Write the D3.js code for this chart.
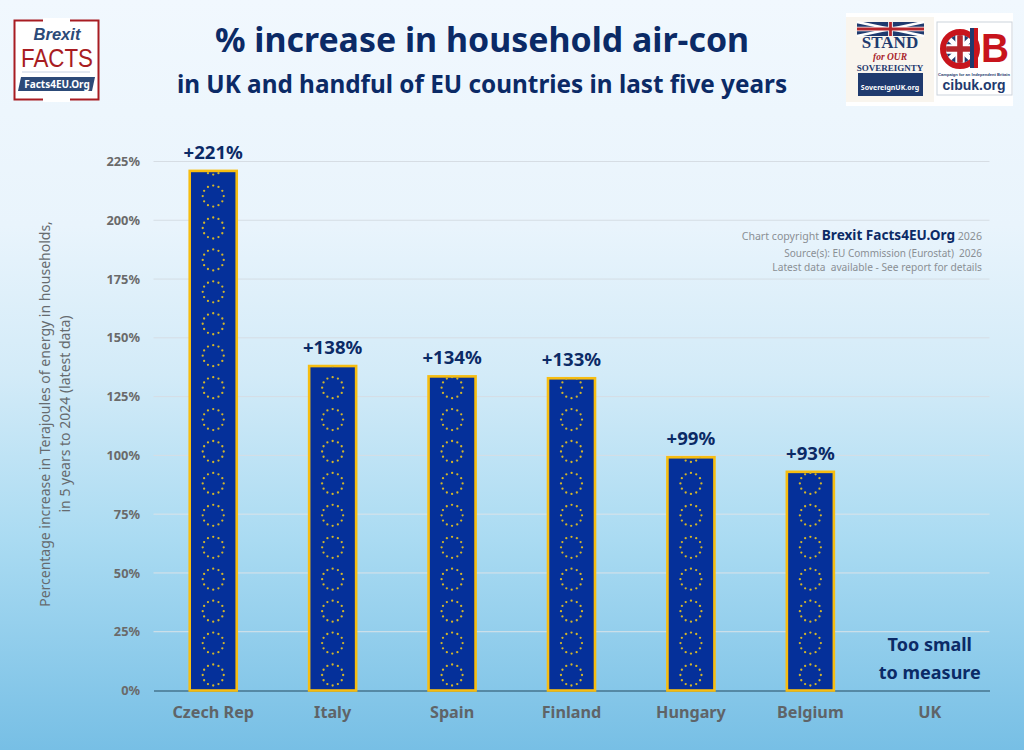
<!DOCTYPE html>
<html><head><meta charset="utf-8">
<script src="https://cdn.jsdelivr.net/npm/d3@7"></script>
<style>html,body{margin:0;padding:0;overflow:hidden}svg{display:block}text{font-family:"Noto Sans",Lato,sans-serif;white-space:pre}</style>
</head><body><svg id="c" width="1024" height="750"></svg>
<script>
const categories=["Czech Rep","Italy","Spain","Finland","Hungary","Belgium","UK"];
const values=[221,138,133.6,132.8,99.2,93,0];
const valueLabels=["+221%","+138%","+134%","+133%","+99%","+93%",""];
const ticks=[0,25,50,75,100,125,150,175,200,225];
const ringSteps=d3.range(17);
const ringStars=d3.range(12);

const svg=d3.select("#c");
const defs=svg.append("defs");
const bg=defs.append("linearGradient").attr("id","bg").attr("x1",0).attr("x2",0).attr("y1",0).attr("y2",1);
[[0,"#f1f8fe"],[.3,"#e9f4fc"],[.5,"#d3ebf8"],[.72,"#aadbf2"],[1,"#77bfe5"]].forEach(s=>bg.append("stop").attr("offset",s[0]).attr("stop-color",s[1]));
svg.append("rect").attr("width",1024).attr("height",750).attr("fill","url(#bg)");

const x=d3.scaleBand().domain(categories).range([153.5,989.5]).paddingInner(0).paddingOuter(0);
const y=d3.scaleLinear().domain([0,225]).range([690.5,161.5]);
const barW=47;

const gy=svg.append("g").attr("transform","translate(153.5,0)")
 .call(d3.axisLeft(y).tickValues(ticks).tickSize(0).tickPadding(13.5).tickFormat(d=>d+"%"));
gy.select(".domain").remove();
gy.selectAll("text").attr("fill","#6a6a6a").attr("font-size",12.8).attr("font-weight",700).style("font-family","Noto Sans");
svg.append("g").selectAll("line").data(ticks.filter(d=>d>0)).join("line")
 .attr("x1",153.5).attr("x2",989.5).attr("y1",d=>y(d)).attr("y2",d=>y(d))
 .attr("stroke",d=>d>=100?"#d6dde4":"#dbe3e8").attr("stroke-width",1);
const gx=svg.append("g").attr("transform","translate(0,690.5)")
 .call(d3.axisBottom(x).tickSize(0).tickPadding(16));
gx.select(".domain").attr("stroke","#46748e").attr("stroke-width",1.6);
gx.selectAll("text").attr("fill","#5f6468").attr("font-size",16.2).attr("font-weight",700).style("font-family","Noto Sans");

const bars=svg.append("g").selectAll("g").data(categories.map((c,i)=>({c,v:values[i],l:valueLabels[i],i}))).join("g");
bars.filter(d=>d.v>0).each(function(d){
  const g=d3.select(this), cx=x(d.c)+x.bandwidth()/2, top=y(d.v);
  defs.append("clipPath").attr("id","cl"+d.i).append("rect").attr("x",cx-barW/2).attr("y",top).attr("width",barW).attr("height",y(0)-top);
  g.append("rect").attr("x",cx-barW/2).attr("y",top).attr("width",barW).attr("height",y(0)-top)
   .attr("fill","#05309a").attr("stroke","#f7bd11").attr("stroke-width",2.6);
  const st=g.append("g").attr("clip-path",`url(#cl${d.i})`);
  ringSteps.forEach(k=>{
    const rc=y(0)-15.5-k*31.93;
    ringStars.forEach(a=>{
      const t=a/12*2*Math.PI;
      st.append("circle").attr("cx",cx+10.5*Math.sin(t)).attr("cy",rc-10.5*Math.cos(t)).attr("r",1.15).attr("fill","#d2b52c");
    });
  });
  g.append("text").attr("x",cx).attr("y",top-12).attr("text-anchor","middle")
   .attr("font-size",18.6).attr("font-weight",700).attr("fill","#0b2a66").text(d.l);
});

const uk=x("UK")+x.bandwidth()/2;
["Too small","to measure"].forEach((t,i)=>svg.append("text").attr("x",uk).attr("y",651+i*28).attr("text-anchor","middle")
  .attr("font-size",18).attr("font-weight",700).attr("fill","#0b2a66").text(t));

const yt=svg.append("g").attr("transform","translate(50,414) rotate(-90)");
["Percentage increase in Terajoules of energy in households,","in 5 years to 2024 (latest data)"].forEach((t,i)=>
  yt.append("text").attr("y",i*20).attr("text-anchor","middle").attr("font-size",14).attr("fill","#666b6f").text(t));

svg.append("text").attr("x",482).attr("y",52).attr("text-anchor","middle").attr("font-size",33.9).attr("font-weight",700).attr("fill","#0b2a66").text("% increase in household air-con");
svg.append("text").attr("x",482).attr("y",93).attr("text-anchor","middle").attr("font-size",24.3).attr("font-weight",700).attr("fill","#0b2a66").text("in UK and handful of EU countries in last five years");

const cp=svg.append("text").attr("x",982).attr("y",240).attr("text-anchor","end").attr("font-size",10.6).attr("fill","#8a8f94");
cp.append("tspan").text("Chart copyright ");
cp.append("tspan").attr("font-size",13.6).attr("font-weight",700).attr("fill","#0b2a66").text("Brexit Facts4EU.Org");
cp.append("tspan").text(" 2026");
svg.append("text").attr("x",982).attr("y",257).attr("text-anchor","end").attr("font-size",10).attr("fill","#8a8f94").text("Source(s): EU Commission (Eurostat)  2026");
svg.append("text").attr("x",982).attr("y",271).attr("text-anchor","end").attr("font-size",10.2).attr("fill","#8a8f94").text("Latest data  available - See report for details");

const l=svg.append("g");
l.append("rect").attr("x",14.5).attr("y",20.5).attr("width",84).attr("height",79).attr("fill","#fff").attr("stroke","#a81c22").attr("stroke-width",2);
l.append("rect").attr("x",43).attr("y",18).attr("width",27).attr("height",5).attr("fill","#fff");
l.append("rect").attr("x",43).attr("y",97).attr("width",27).attr("height",5).attr("fill","#fff");
l.append("text").attr("x",57).attr("y",40).attr("text-anchor","middle").attr("font-size",16.5).attr("font-weight",700).attr("font-style","italic").attr("fill","#2c4a78").style("font-family","Liberation Sans").text("Brexit");
l.append("text").attr("x",57).attr("y",67).attr("text-anchor","middle").attr("font-size",25).attr("fill","#a81c22").style("font-family","Liberation Sans").attr("textLength",72).attr("lengthAdjust","spacingAndGlyphs").text("FACTS");
l.append("line").attr("x1",22).attr("x2",90).attr("y1",72).attr("y2",72).attr("stroke","#c6d2e4");
l.append("path").attr("d","M21,77H95L92,91H18Z").attr("fill","#2c4a78");
l.append("text").attr("x",57).attr("y",88).attr("text-anchor","middle").attr("font-size",10).attr("font-weight",700).attr("fill","#fff").text("Facts4EU.Org");

const r=svg.append("g");
r.append("rect").attr("x",846).attr("y",13).attr("width",167).attr("height",93).attr("fill","#fff");
r.append("rect").attr("x",846).attr("y",17).attr("width",88).attr("height",85).attr("fill","#f9f5ee");
function flag(g,x0,y0,w,h){
  g.append("rect").attr("x",x0).attr("y",y0).attr("width",w).attr("height",h).attr("fill","#1f3a6e");
  g.append("path").attr("d",`M${x0},${y0}L${x0+w},${y0+h}M${x0+w},${y0}L${x0},${y0+h}`).attr("stroke","#fff").attr("stroke-width",h/6);
  g.append("path").attr("d",`M${x0+w/2},${y0}V${y0+h}M${x0},${y0+h/2}H${x0+w}`).attr("stroke","#fff").attr("stroke-width",h/3);
  g.append("path").attr("d",`M${x0+w/2},${y0}V${y0+h}M${x0},${y0+h/2}H${x0+w}`).attr("stroke","#b5262c").attr("stroke-width",h/5);
}
flag(r,857,22,67,14);
r.append("text").attr("x",890).attr("y",48).attr("text-anchor","middle").attr("font-size",17).attr("font-weight",700).attr("fill","#1f3a6e").style("font-family","Liberation Serif").text("STAND");
r.append("text").attr("x",890).attr("y",60).attr("text-anchor","middle").attr("font-size",9.5).attr("font-weight",700).attr("font-style","italic").attr("fill","#a8242c").style("font-family","Liberation Serif").text("for OUR");
r.append("text").attr("x",890).attr("y",70.5).attr("text-anchor","middle").attr("font-size",9).attr("font-weight",700).attr("fill","#1f3a6e").style("font-family","Liberation Serif").text("SOVEREIGNTY");
r.append("rect").attr("x",858).attr("y",73).attr("width",65).attr("height",23).attr("fill","#1f3a6e");
r.append("text").attr("x",890).attr("y",90).attr("text-anchor","middle").attr("font-size",7).attr("font-weight",700).attr("fill","#fff").text("SovereignUK.org");
r.append("rect").attr("x",937).attr("y",22).attr("width",75).attr("height",73).attr("fill","#fff").attr("stroke","#ccd3dc");
r.append("circle").attr("cx",960).attr("cy",49).attr("r",17).attr("fill","none").attr("stroke","#c8141c").attr("stroke-width",6);
r.append("clipPath").attr("id","gb").append("circle").attr("cx",960).attr("cy",49).attr("r",14);
const gb=r.append("g").attr("clip-path","url(#gb)"); flag(gb,945,35,30,28);
r.append("rect").attr("x",970).attr("y",28).attr("width",4).attr("height",40).attr("fill","#1f3a6e");
r.append("rect").attr("x",974).attr("y",28).attr("width",4).attr("height",40).attr("fill","#c8141c");
r.append("text").attr("x",995).attr("y",62).attr("text-anchor","middle").attr("font-size",40).attr("font-weight",700).attr("fill","#c8141c").style("font-family","Liberation Sans").attr("textLength",28).attr("lengthAdjust","spacingAndGlyphs").text("B");
r.append("text").attr("x",974).attr("y",75.5).attr("text-anchor","middle").attr("font-size",4.1).attr("font-weight",700).attr("fill","#1f3a6e").style("font-family","Liberation Sans").text("Campaign for an Independent Britain");
r.append("text").attr("x",974).attr("y",90).attr("text-anchor","middle").attr("font-size",14).attr("font-weight",700).attr("fill","#1f3a6e").style("font-family","Liberation Sans").text("cibuk.org");
</script></body></html>
